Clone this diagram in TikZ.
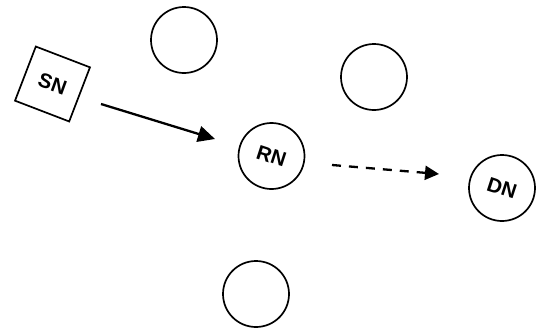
\documentclass[tikz,border=0pt]{standalone}
\usepackage{fontspec}
\setmainfont{Liberation Sans}
\usetikzlibrary{arrows.meta}
\begin{document}
\begin{tikzpicture}[x=1pt,y=-1pt,
  nodecirc/.style={draw,circle,line width=1.7pt,minimum size=66pt,inner sep=0pt},
  nodebox/.style={draw,rectangle,line width=1.7pt,minimum size=58pt,inner sep=0pt},
  lab/.style={inner sep=0pt,font=\fontsize{20.5}{20.5}\selectfont\bfseries},
  link/.style={line width=2.3pt,-{Triangle[length=17pt,width=16pt]}}]
\useasboundingbox (0,0) rectangle (536,327);
\node[nodebox,rotate=-21] (sn) at (52.5,84) {};
\node[lab,rotate=-20] (snl) at (sn.center) {SN};
\node[nodecirc] (rn) at (271.5,156) {};
\node[lab,rotate=-18] (rnl) at (rn.center) {RN};
\node[nodecirc] (dn) at (502,188) {};
\node[lab,rotate=-18] (dnl) at (dn.center) {DN};
\node[nodecirc] (c1) at (184,40) {};
\node[nodecirc] (c2) at (374,77) {};
\node[nodecirc] (c3) at (256,294) {};
\coordinate (a1) at (101,104);
\coordinate (a2) at (215,139);
\coordinate (b1) at (332,165);
\coordinate (b2) at (439,174);
\draw[link] (a1) -- (a2);
\draw[link,dash pattern=on 9pt off 8pt,-{Triangle[length=14pt,width=14pt]}] (b1) -- (b2);
\end{tikzpicture}
\end{document}
